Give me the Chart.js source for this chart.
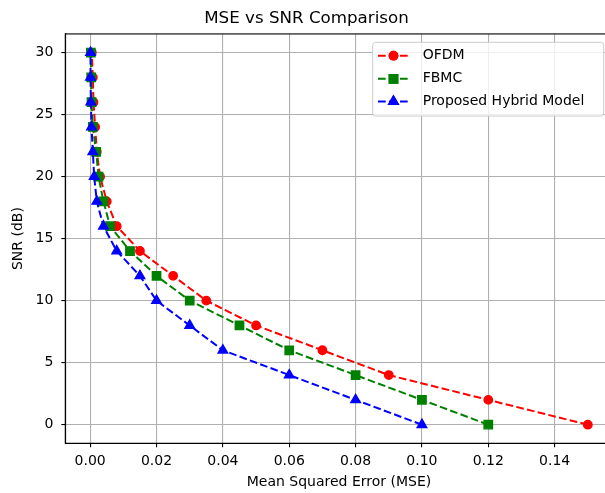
<!DOCTYPE html>
<html>
<head>
<meta charset="utf-8">
<title>MSE vs SNR Comparison</title>
<script src="https://cdn.jsdelivr.net/npm/chart.js@4/dist/chart.umd.min.js"></script>
<style>
body{margin:0;overflow:hidden;background:#fff}
</style>
</head>
<body>
<canvas id="mseChart" width="620" height="493"></canvas>
<script>

// SNR points (dB) and mean squared error for each scheme
const snrValues=[0,2,4,6,8,10,12,14,16,18,20,22,24,26,28,30];
const ofdmMse=[0.15,0.12,0.09,0.07,0.05,0.035,0.025,0.015,0.008,0.005,0.003,0.002,0.0015,0.001,0.0008,0.0005];
const fbmcMse=[0.12,0.10,0.08,0.06,0.045,0.03,0.02,0.012,0.006,0.004,0.0025,0.0018,0.0008,0.0004,0.0003,0.0002];
const hybridMse=[0.10,0.08,0.06,0.04,0.03,0.02,0.015,0.008,0.004,0.002,0.0012,0.0008,0.0004,0.0002,0.0001,0.0001];

const xTicks=[0,0.02,0.04,0.06,0.08,0.10,0.12,0.14];
const yTicks=[0,5,10,15,20,25,30];

const font="DejaVu Sans";

function points(xs){
    return xs.map((x,i)=>({x:x,y:snrValues[i]}));
}

function makeSet(label,color,style,radius,xs,order){
    return {
        label:label,
        data:points(xs),
        showLine:true,
        borderColor:color,
        backgroundColor:color,
        borderWidth:2,
        borderDash:[7.7,3.3],
        pointStyle:style,
        pointRadius:radius,
        pointHoverRadius:radius,
        pointBorderWidth:1.4,
        pointBorderColor:color,
        pointBackgroundColor:color,
        order:order
    };
}

// frame round the plot area (top + right spines)
const framePlugin={
    id:"frame",
    beforeDatasetsDraw(chart){
        const a=chart.chartArea, ctx=chart.ctx;
        ctx.save();
        ctx.strokeStyle="#000";
        ctx.lineWidth=1.1;
        ctx.strokeRect(a.left,a.top,a.right-a.left,a.bottom-a.top);
        ctx.restore();
    }
};

// matplotlib style legend in the upper right corner
const legendPlugin={
    id:"boxLegend",
    afterDraw(chart){
        const ctx=chart.ctx;
        const x0=372.7,y0=42.3,w=231,h=73.7;
        ctx.save();
        ctx.fillStyle="rgba(255,255,255,0.8)";
        ctx.strokeStyle="#cccccc";
        ctx.lineWidth=1;
        ctx.beginPath();
        ctx.roundRect(x0,y0,w,h,3);
        ctx.fill();
        ctx.stroke();
        const rows=[55.7,78.8,101.5];
        chart.data.datasets.forEach((ds,i)=>{
            const y=rows[i];
            ctx.strokeStyle=ds.borderColor;
            ctx.lineWidth=2;
            ctx.setLineDash([7.7,3.3]);
            ctx.beginPath();
            ctx.moveTo(378,y);
            ctx.lineTo(409,y);
            ctx.stroke();
            ctx.setLineDash([]);
            ctx.fillStyle=ds.borderColor;
            ctx.lineWidth=1.4;
            Chart.helpers.drawPoint(ctx,{pointStyle:ds.pointStyle,radius:ds.pointRadius,borderWidth:1.4},393.5,y);
            ctx.fill();
            ctx.stroke();
            ctx.fillStyle="#000";
            ctx.font="14px '"+font+"'";
            ctx.textBaseline="middle";
            ctx.textAlign="left";
            ctx.fillText(ds.label,422.7,y);
        });
        ctx.restore();
    }
};

const canvas=document.getElementById("mseChart");

new Chart(canvas,{
    type:"scatter",
    data:{
        datasets:[
            makeSet("OFDM","#ff0000","circle",4.2,ofdmMse,2),
            makeSet("FBMC","#008000","rect",5.9,fbmcMse,1),
            makeSet("Proposed Hybrid Model","#0000ff","triangle",5.5,hybridMse,0)
        ]
    },
    options:{
        responsive:false,
        animation:false,
        devicePixelRatio:1,
        layout:{padding:{left:0,right:7,top:0,bottom:0}},
        plugins:{
            legend:{display:false},
            tooltip:{enabled:false},
            title:{
                display:true,
                text:"MSE vs SNR Comparison",
                color:"#000",
                font:{family:font,size:16.7,weight:"normal"},
                padding:{top:9,bottom:4.9}
            }
        },
        scales:{
            x:{
                type:"linear",
                min:-0.0075,
                max:0.1575,
                afterBuildTicks(scale){scale.ticks=xTicks.map(v=>({value:v}));},
                afterFit(scale){scale.height=49.7;},
                ticks:{
                    color:"#000",
                    font:{family:font,size:14},
                    padding:6,
                    maxRotation:0,
                    callback:v=>v.toFixed(2)
                },
                grid:{color:"#b0b0b0",lineWidth:1.1,tickLength:4,tickColor:"#000",tickWidth:1.1},
                border:{color:"#000",width:1.1},
                title:{
                    display:true,
                    text:"Mean Squared Error (MSE)",
                    color:"#000",
                    font:{family:font,size:14},
                    padding:{top:0,bottom:2.6}
                }
            },
            y:{
                type:"linear",
                min:-1.5,
                max:31.5,
                afterBuildTicks(scale){scale.ticks=yTicks.map(v=>({value:v}));},
                afterFit(scale){scale.width=65.3;},
                ticks:{
                    color:"#000",
                    font:{family:font,size:14},
                    padding:8,
                    callback:v=>String(v)
                },
                grid:{color:"#b0b0b0",lineWidth:1.1,tickLength:4,tickColor:"#000",tickWidth:1.1},
                border:{color:"#000",width:1.1},
                title:{
                    display:true,
                    text:"SNR (dB)",
                    color:"#000",
                    font:{family:font,size:14},
                    padding:{top:9.6,bottom:0}
                }
            }
        }
    },
    plugins:[framePlugin,legendPlugin]
});

</script>
</body>
</html>
